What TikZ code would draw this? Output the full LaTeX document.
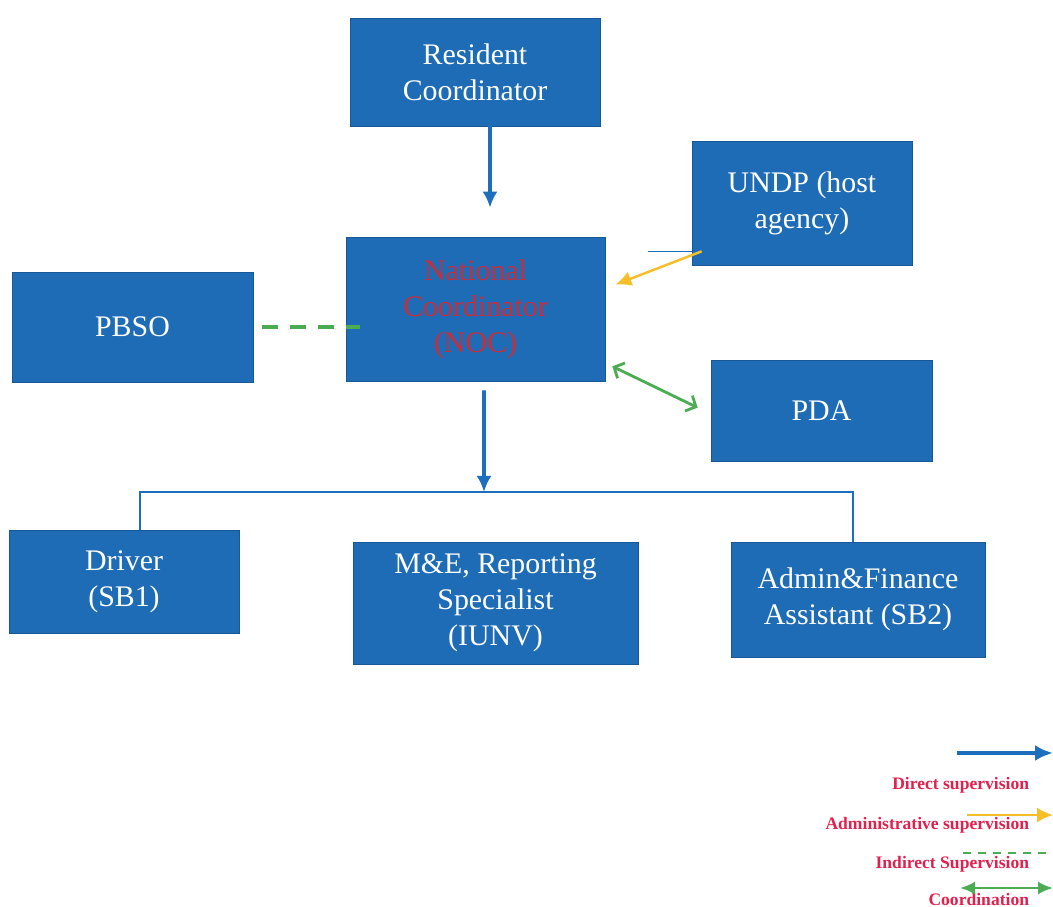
\documentclass[tikz,border=0pt]{standalone}
\usepackage{fontspec}
\setmainfont{Liberation Serif}
\usetikzlibrary{arrows,arrows.meta,positioning}
\definecolor{boxblue}{RGB}{31,108,182}
\definecolor{boxedge}{RGB}{24,88,150}
\definecolor{nocred}{RGB}{200,45,58}
\definecolor{legred}{RGB}{226,32,78}
\definecolor{supblue}{RGB}{30,110,190}
\definecolor{admyellow}{RGB}{246,190,40}
\definecolor{coogreen}{RGB}{76,172,84}

\begin{document}
\begin{tikzpicture}[>=latex, very thick]
	\tikzstyle{all nodes}=[shape=rectangle]
	\tikzstyle{box}=[draw=boxedge, thin, fill=boxblue, text=white, align=center,
		inner sep=0pt, font=\fontsize{17}{20.5}\selectfont]
	\tikzstyle{sup}=[draw=supblue, line width=2pt, -{Latex[length=0.32cm,width=0.3cm]}]
	\tikzstyle{busline}=[draw=supblue, line width=0.9pt]
	\tikzstyle{adm}=[draw=admyellow, line width=1.4pt, -{Latex[length=0.32cm,width=0.3cm]}]
	\tikzstyle{indirect}=[draw=coogreen, line width=2.3pt, dash pattern=on 0.32cm off 0.24cm]
	\tikzstyle{coord}=[draw=coogreen, line width=1.6pt,
		{Straight Barb[length=0.16cm,width=0.34cm]}-{Straight Barb[length=0.16cm,width=0.34cm]}]
	\tikzstyle{legtext}=[anchor=east, text=legred, font=\fontsize{10}{12}\selectfont\bfseries]
	\useasboundingbox (0,0) rectangle (21.06,-18.14);
	% % Nodes
	% top
	\node[box, minimum width=5cm, minimum height=2.16cm] (rc) at (9.5,-1.44)
	{Resident\\Coordinator};
	% host agency
	\node[box, minimum width=4.4cm, minimum height=2.48cm] (undp) at (16.04,-4.06)
	{UNDP (host\\agency)};
	% national coordinator
	\node[box, minimum width=5.18cm, minimum height=2.88cm, text=nocred] (noc) at (9.51,-6.18)
	{National\\Coordinator\\(NOC)};
	% pbso
	\node[box, minimum width=4.82cm, minimum height=2.2cm] (pbso) at (2.65,-6.54)
	{PBSO};
	% pda
	\node[box, minimum width=4.42cm, minimum height=2.02cm] (pda) at (16.43,-8.21)
	{PDA};
	% staff
	\node[box, minimum width=4.6cm, minimum height=2.06cm] (driver) at (2.48,-11.63)
	{Driver\\(SB1)};
	\node[box, minimum width=5.7cm, minimum height=2.44cm] (mne) at (9.91,-12.06)
	{M\&E, Reporting\\Specialist\\(IUNV)};
	\node[box, minimum width=5.08cm, minimum height=2.3cm] (admin) at (17.16,-11.99)
	{Admin\&Finance\\Assistant (SB2)};
	\coordinate (bus) at (9.68,-9.84);
	% legend
	\coordinate (dsA) at (19.14,-15.06);
	\coordinate (dsB) at (21.06,-15.06);
	\node[legtext] (dstext) at (20.72,-15.7) {Direct supervision};
	\coordinate (asA) at (19.34,-16.3);
	\coordinate (asB) at (21.06,-16.3);
	\node[legtext] (astext) at (20.72,-16.5) {Administrative supervision};
	\coordinate (isA) at (19.26,-17.06);
	\coordinate (isB) at (21.06,-17.06);
	\node[legtext] (istext) at (20.72,-17.28) {Indirect Supervision};
	\coordinate (coA) at (19.2,-17.76);
	\coordinate (coB) at (21.06,-17.76);
	\node[legtext] (cotext) at (20.72,-17.98) {Coordination};
	% % Connectors
	\draw[sup, shorten >=0.58cm] ([xshift=3mm]rc.south) -- ([xshift=3mm]rc.south |- noc.north);
	\draw[busline] ([xshift=-0.88cm,yshift=0.28cm]undp.south west) -- ([yshift=0.28cm]undp.south west);
	\draw[adm] ([shift={(0.2,0.28)}]undp.south west) -- ([shift={(0.2,-0.96)}]noc.north east);
	\draw[indirect] ([xshift=1.8mm]pbso.east) -- ([xshift=2.8mm]pbso.east -| noc.west);
	\draw[coord] ([shift={(0.14,0.3)}]noc.south east) -- ([shift={(-0.26,-0.96)}]pda.north west);
	\draw[sup, shorten <=0.18cm] ([xshift=1.7mm]noc.south) -- (bus);
	\draw[busline] ([xshift=3.2mm]driver.north) |- (bus) -| ([xshift=-1mm]admin.north);
	% legend lines
	\draw[sup, line width=2.2pt, -{Latex[length=0.36cm,width=0.32cm]}] (dsA) -- (dsB);
	\draw[adm, line width=1.4pt] (asA) -- (asB);
	\draw[indirect, line width=1pt, dash pattern=on 0.16cm off 0.14cm] (isA) -- (isB);
	\draw[draw=coogreen, line width=1.6pt, {Latex[length=0.3cm,width=0.26cm]}-{Latex[length=0.3cm,width=0.26cm]}] (coA) -- (coB);
\end{tikzpicture}
\end{document}
